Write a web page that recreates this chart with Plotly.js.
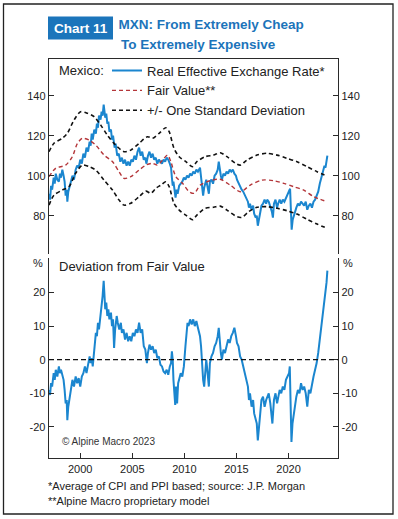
<!DOCTYPE html>
<html>
<head>
<meta charset="utf-8">
<script src="https://cdn.plot.ly/plotly-3.0.1.min.js"></script>
<style>
  html, body { margin: 0; padding: 0; background: #fff; }
  #chart { width: 398px; height: 519px; }
</style>
</head>
<body>
<div id="chart"></div>
<script>
// ---------- DATA ----------
const reerYears = [1997.0,1997.1,1997.2,1997.3,1997.45,1997.55,1997.65,1997.8,1997.95,1998.05,1998.15,1998.28,1998.4,1998.5,1998.6,1998.7,1998.76,1998.85,1999.0,1999.1,1999.25,1999.4,1999.56,1999.7,1999.85,2000.0,2000.15,2000.3,2000.45,2000.6,2000.75,2000.9,2001.0,2001.1,2001.2,2001.35,2001.5,2001.6,2001.7,2001.8,2001.95,2002.05,2002.15,2002.25,2002.32,2002.4,2002.5,2002.6,2002.7,2002.8,2002.95,2003.05,2003.15,2003.3,2003.4,2003.55,2003.7,2003.85,2004.0,2004.15,2004.3,2004.45,2004.6,2004.75,2004.9,2005.05,2005.2,2005.35,2005.5,2005.65,2005.8,2005.95,2006.1,2006.25,2006.35,2006.5,2006.65,2006.8,2006.95,2007.1,2007.25,2007.4,2007.55,2007.7,2007.85,2008.0,2008.15,2008.3,2008.45,2008.6,2008.72,2008.8,2008.88,2008.95,2009.05,2009.15,2009.25,2009.35,2009.5,2009.65,2009.8,2009.95,2010.1,2010.25,2010.4,2010.55,2010.7,2010.85,2011.0,2011.15,2011.3,2011.5,2011.6,2011.7,2011.8,2011.9,2012.0,2012.1,2012.2,2012.35,2012.45,2012.6,2012.75,2012.9,2013.05,2013.2,2013.3,2013.4,2013.5,2013.6,2013.75,2013.9,2014.05,2014.2,2014.35,2014.5,2014.65,2014.8,2014.95,2015.05,2015.2,2015.35,2015.5,2015.65,2015.8,2015.95,2016.1,2016.2,2016.3,2016.45,2016.6,2016.7,2016.85,2016.95,2017.05,2017.12,2017.25,2017.4,2017.55,2017.7,2017.85,2017.95,2018.1,2018.25,2018.4,2018.5,2018.6,2018.75,2018.9,2019.0,2019.15,2019.3,2019.45,2019.6,2019.75,2019.9,2020.05,2020.15,2020.22,2020.3,2020.4,2020.5,2020.6,2020.75,2020.9,2021.05,2021.2,2021.35,2021.5,2021.65,2021.8,2021.95,2022.1,2022.25,2022.4,2022.55,2022.7,2022.85,2023.0,2023.15,2023.3,2023.45,2023.55,2023.65,2023.73];
const reerValues = [91,88,95,93,99,96,101,98,97,101,99,103,100,97,90,93,87,92,95,97,100,98,103,105,104,108,106,111,109,114,112,117,115,121,118,123,121,126,124,130,128,132,130,135.5,133,129,131,126,127,122,123,118,120,114,116,110,111,107,109,106,108,105,107,105,108,107,110,108,112,114,110,112,108,109,106,110,112,109,111,108,109,106,108,107,106,108,107,109,108,106,104,99,95,97,92,89,93,91,95,96,97,99,98,100,99,101,100,102,101,103,102,104,100,96,90,94,96,98,95,91,97,98,96,100,101,103,107,103,100,98,101,100,102,101,103,102,103,101,100,98,96,95,93,92,90,89,87,84,86,83,85,81,79,80,75,77,80,85,86,88,86,88,87,85,82,79,86,88,84,86,88,86,88,87,89,90,92,93.5,84,73,78,80,82,84,86,85,87,86,85,87,83,85,86,84,87,88,90,92,96,99,101,105,104,109,110];

const fairYears = [1997.0,1997.64,1998.6,1999.24,1999.72,2000.2,2000.85,2001.49,2002.29,2003.1,2003.73,2004.2,2004.85,2005.65,2006.3,2006.94,2007.4,2007.9,2008.38,2008.7,2009.18,2009.82,2010.46,2010.94,2011.52,2012.48,2013.44,2014.4,2015.37,2016.33,2017.45,2018.57,2019.53,2020.5,2021.46,2022.42,2023.7];
const fairValues = [99.5,103.7,105.3,109.5,116,118.7,117.8,115.3,110.3,107,102,98.7,99.5,102.8,105.3,106.2,105.3,107.8,110.3,107,99.5,96.2,92,91.2,95.3,97.5,98.2,95.3,92,95.3,97.8,97.5,96.2,94.5,92.8,89.5,87];

const upperYears = [1997.0,1997.48,1998.28,1998.76,1999.4,2000.04,2000.69,2001.33,2001.97,2002.6,2003.4,2004.2,2004.85,2005.65,2006.46,2006.94,2007.58,2008.22,2008.54,2009.0,2009.5,2010.14,2010.78,2011.2,2012.0,2012.8,2013.44,2014.09,2014.9,2015.37,2016.0,2016.97,2017.93,2018.9,2019.85,2020.82,2021.78,2022.74,2023.7];
const upperValues = [112,116.2,118.7,121.2,127.8,132,131.2,129.5,125.3,120.3,115.3,112,112.8,116.2,119.5,118.7,121.2,124,122,113.7,109.5,107,104.5,107,109.5,110.3,111.5,109.5,106.2,105.3,107.8,110.3,111.2,110.3,108.7,107,104.5,102,99.8];

const lowerYears = [1997.0,1997.48,1998.28,1998.92,1999.56,2000.2,2000.85,2001.49,2002.29,2003.1,2003.73,2004.2,2004.85,2005.65,2006.3,2006.78,2007.26,2007.74,2008.22,2008.54,2009.0,2009.5,2010.14,2010.78,2011.2,2012.0,2012.8,2013.44,2014.09,2015.05,2015.53,2016.17,2016.97,2017.93,2018.9,2019.85,2020.82,2021.78,2022.74,2023.7];
const lowerValues = [85.3,90.3,92.8,94.5,101.2,105.3,104.5,102.8,97.8,92.8,87.8,85.3,86.2,89.5,92.3,91.2,93.7,95.3,97,94.5,86.2,82.8,80.3,78,80.3,83.7,84.2,84.8,82.8,79.5,79.2,82,84.2,84.5,83.7,82.5,80.8,78.2,75.8,73.7];

const devYears = [1997.0,1997.1,1997.2,1997.3,1997.45,1997.55,1997.65,1997.8,1997.95,1998.05,1998.15,1998.28,1998.4,1998.5,1998.6,1998.7,1998.76,1998.85,1999.0,1999.1,1999.25,1999.4,1999.56,1999.7,1999.85,2000.0,2000.15,2000.3,2000.45,2000.6,2000.75,2000.9,2001.0,2001.1,2001.2,2001.35,2001.5,2001.6,2001.7,2001.8,2001.95,2002.05,2002.15,2002.25,2002.32,2002.4,2002.5,2002.6,2002.7,2002.8,2002.95,2003.05,2003.15,2003.25,2003.35,2003.5,2003.6,2003.75,2003.9,2004.0,2004.15,2004.3,2004.45,2004.6,2004.75,2004.9,2005.05,2005.2,2005.35,2005.5,2005.65,2005.8,2005.95,2006.1,2006.25,2006.4,2006.5,2006.65,2006.8,2006.95,2007.1,2007.25,2007.4,2007.55,2007.7,2007.85,2008.0,2008.15,2008.3,2008.45,2008.6,2008.72,2008.8,2008.88,2008.95,2009.05,2009.12,2009.2,2009.3,2009.4,2009.5,2009.65,2009.8,2009.95,2010.1,2010.2,2010.3,2010.4,2010.55,2010.7,2010.85,2011.0,2011.15,2011.3,2011.5,2011.6,2011.7,2011.8,2011.9,2012.0,2012.1,2012.2,2012.35,2012.45,2012.6,2012.75,2012.9,2013.05,2013.2,2013.3,2013.4,2013.5,2013.6,2013.75,2013.9,2014.05,2014.2,2014.35,2014.5,2014.65,2014.8,2014.95,2015.05,2015.2,2015.35,2015.5,2015.65,2015.8,2015.95,2016.1,2016.2,2016.3,2016.45,2016.6,2016.7,2016.85,2016.95,2017.05,2017.12,2017.25,2017.4,2017.55,2017.7,2017.85,2017.95,2018.1,2018.25,2018.35,2018.45,2018.6,2018.75,2018.9,2019.0,2019.15,2019.3,2019.45,2019.6,2019.75,2019.9,2020.05,2020.12,2020.2,2020.28,2020.38,2020.5,2020.6,2020.75,2020.9,2021.05,2021.2,2021.35,2021.5,2021.65,2021.8,2021.95,2022.1,2022.25,2022.4,2022.55,2022.7,2022.85,2023.0,2023.15,2023.3,2023.45,2023.55,2023.65,2023.73];
const devValues = [-9,-10.5,-7,-8,-4,-6,-3,-5,-2,-4,-3,-4.5,-6,-9,-13,-12,-18,-14,-11,-10,-6,-8,-5,-7,-5.5,-8,-5,-4,-2,-4,-1,1,-1,0.5,-2,4,8,7,11,9,13,17,19,23.5,20,15,17,13,15,12,14,10,12,3.5,9,13,11,9,11,8,9,6,8,5.5,7,5.5,8,7,9,8,11,8,9,4,3,-1,2,4.5,3,4,2,3,0.5,1,-1.5,-2,-3.5,-4,-3,-4.5,-2,-1,2.5,0,-6,-11,-13.5,-8,-13,-7,-6,-4,-5,-2,4,7,11,10,12,10.5,12,10,11.5,9.5,7,4,-2,-6,-8,-2,0,-3,-8,-1,1,2,4,5,7,9.5,5,2,0,3,2,4,6,5,7,8,9.5,7,5,4,1,0,-2,-4,-6,-8,-12,-10,-14,-12,-16,-18,-19,-24,-22,-17,-12,-11,-14,-12,-11,-10,-13,-16,-19,-12,-10,-13,-11,-9,-10,-8,-9,-6,-5,-4,-2,-12,-24.5,-19,-16,-13,-11,-9,-10,-7,-9,-8,-10,-14,-9,-10,-7,-5,-3,-1,2,6,9,14,17,20,23,26.5];

const xTicks = [2000, 2005, 2010, 2015, 2020];
const topTicks = [80, 100, 120, 140];
const botTicks = [-20, -10, 0, 10, 20];

// ---------- LAYOUT HELPERS ----------
const W = 398, H = 519;
const px = v => v / W;
const py = v => 1 - v / H;
const BLUE = '#1b86cf';
const TITLEBLUE = '#1c74ba';
const FONT = 'Liberation Sans, Arial, sans-serif';
const AX = '#2a2a2a';

const xDom = [px(49), px(338)];
const topDom = [py(254), py(59)];
const botDom = [py(458), py(258)];
const xRange = [1997.0, 2024.75];
const topRange = [60.85, 158.35];
const botRange = [-29.26, 30.27];

const tickFont = {family: FONT, size: 11, color: '#222'};

const traces = [
  {x: reerYears, y: reerValues, xaxis: 'x2', yaxis: 'y', type: 'scatter', mode: 'lines',
   name: 'Real Effective Exchange Rate*', line: {color: BLUE, width: 2}, hoverinfo: 'skip'},
  {x: fairYears, y: fairValues, xaxis: 'x2', yaxis: 'y', type: 'scatter', mode: 'lines',
   name: 'Fair Value**', line: {color: '#b4363a', width: 1.4, dash: '4px,3px', shape: 'spline', smoothing: 0.8}, hoverinfo: 'skip'},
  {x: upperYears, y: upperValues, xaxis: 'x2', yaxis: 'y', type: 'scatter', mode: 'lines',
   name: '+/- One Standard Deviation', legendgroup: 'sd',
   line: {color: '#111', width: 1.6, dash: '4px,3px', shape: 'spline', smoothing: 0.8}, hoverinfo: 'skip'},
  {x: lowerYears, y: lowerValues, xaxis: 'x2', yaxis: 'y', type: 'scatter', mode: 'lines',
   name: 'Lower band', legendgroup: 'sd', showlegend: false,
   line: {color: '#111', width: 1.6, dash: '4px,3px', shape: 'spline', smoothing: 0.8}, hoverinfo: 'skip'},
  {x: devYears, y: devValues, xaxis: 'x', yaxis: 'y2', type: 'scatter', mode: 'lines',
   name: 'Deviation from Fair Value', showlegend: false, line: {color: BLUE, width: 2}, hoverinfo: 'skip'},
  {x: [], y: [], xaxis: 'x2', yaxis: 'y3', type: 'scatter', mode: 'lines', showlegend: false, hoverinfo: 'skip'},
  {x: [], y: [], xaxis: 'x', yaxis: 'y4', type: 'scatter', mode: 'lines', showlegend: false, hoverinfo: 'skip'}
];

const yCommon = {
  showgrid: false, zeroline: false, showline: true, linecolor: AX, linewidth: 1.3,
  ticks: 'inside', ticklen: 5, tickwidth: 1, tickcolor: AX, tickfont: tickFont, fixedrange: true
};

const layout = {
  width: W, height: H,
  margin: {l: 0, r: 0, t: 0, b: 0},
  paper_bgcolor: '#fff', plot_bgcolor: 'rgba(0,0,0,0)',
  font: {family: FONT, color: '#222'},
  title: {
    text: 'MXN: From Extremely Cheap',
    x: px(118.5), xanchor: 'left', xref: 'paper',
    y: py(24.5), yanchor: 'middle', yref: 'container',
    font: {family: FONT, size: 13.5, color: TITLEBLUE, weight: 'bold'}
  },
  showlegend: true,
  legend: {
    x: px(107), xanchor: 'left', y: py(55.5), yanchor: 'top',
    bgcolor: 'rgba(0,0,0,0)', borderwidth: 0,
    font: {family: FONT, size: 13, color: '#222'},
    tracegroupgap: 0
  },
  xaxis: {
    domain: xDom, anchor: 'y2', range: xRange, showgrid: false, zeroline: false,
    showline: true, linecolor: AX, linewidth: 1.3,
    ticks: 'inside', ticklen: 5, tickwidth: 1, tickcolor: AX,
    tickvals: xTicks, ticktext: xTicks.map(String), tickfont: tickFont, fixedrange: true
  },
  xaxis2: {
    domain: xDom, anchor: 'y', matches: 'x', side: 'top', showgrid: false, zeroline: false,
    showline: true, linecolor: AX, linewidth: 1.3, ticks: '', showticklabels: false, fixedrange: true
  },
  yaxis: Object.assign({}, yCommon, {domain: topDom, anchor: 'x2', range: topRange, side: 'left',
    tickvals: topTicks, ticktext: topTicks.map(String)}),
  yaxis3: Object.assign({}, yCommon, {overlaying: 'y', anchor: 'x2', range: topRange, side: 'right',
    tickvals: topTicks, ticktext: topTicks.map(String)}),
  yaxis2: Object.assign({}, yCommon, {domain: botDom, anchor: 'x', range: botRange, side: 'left',
    tickvals: botTicks, ticktext: botTicks.map(String)}),
  yaxis4: Object.assign({}, yCommon, {overlaying: 'y2', anchor: 'x', range: botRange, side: 'right',
    tickvals: botTicks, ticktext: botTicks.map(String)}),
  shapes: [
    {type: 'rect', xref: 'paper', yref: 'paper', x0: px(3.5), x1: px(393), y0: py(514), y1: py(4),
     line: {color: '#222', width: 1.3}, fillcolor: 'rgba(0,0,0,0)', layer: 'below'},
    {type: 'rect', xref: 'paper', yref: 'paper', x0: px(48), x1: px(113), y0: py(39.5), y1: py(16.5),
     line: {width: 0}, fillcolor: '#1b75bb'},
    {type: 'line', xref: 'x domain', yref: 'y2', x0: 0, x1: 1, y0: 0, y1: 0,
     line: {color: '#111', width: 1.2, dash: '5px,3px'}}
  ],
  annotations: [
    {text: 'Chart 11', xref: 'paper', yref: 'paper', x: px(80.5), y: py(28), xanchor: 'center', yanchor: 'middle',
     showarrow: false, font: {family: FONT, size: 13.5, color: '#fff', weight: 'bold'}},
    {text: 'To Extremely Expensive', xref: 'paper', yref: 'paper', x: px(118.5), y: py(44.5), xanchor: 'left', yanchor: 'middle',
     showarrow: false, font: {family: FONT, size: 13.5, color: TITLEBLUE, weight: 'bold'}},
    {text: 'Mexico:', xref: 'paper', yref: 'paper', x: px(57), y: py(70.5), xanchor: 'left', yanchor: 'middle',
     showarrow: false, font: {family: FONT, size: 13, color: '#222'}},
    {text: 'Deviation from Fair Value', xref: 'paper', yref: 'paper', x: px(57), y: py(266), xanchor: 'left', yanchor: 'middle',
     showarrow: false, font: {family: FONT, size: 13, color: '#222'}},
    {text: '%', xref: 'paper', yref: 'paper', x: px(45), y: py(263), xanchor: 'right', yanchor: 'middle',
     showarrow: false, font: {family: FONT, size: 11, color: '#222'}},
    {text: '%', xref: 'paper', yref: 'paper', x: px(341), y: py(263), xanchor: 'left', yanchor: 'middle',
     showarrow: false, font: {family: FONT, size: 11, color: '#222'}},
    {text: '© Alpine Macro 2023', xref: 'paper', yref: 'paper', x: px(60), y: py(441), xanchor: 'left', yanchor: 'middle',
     showarrow: false, font: {family: FONT, size: 10, color: '#333'}},
    {text: '*Average of CPI and PPI based; source: J.P. Morgan', xref: 'paper', yref: 'paper', x: px(46), y: py(486), xanchor: 'left', yanchor: 'middle',
     showarrow: false, font: {family: FONT, size: 11, color: '#222'}},
    {text: '**Alpine Macro proprietary model', xref: 'paper', yref: 'paper', x: px(46), y: py(500.5), xanchor: 'left', yanchor: 'middle',
     showarrow: false, font: {family: FONT, size: 11, color: '#222'}}
  ]
};

Plotly.newPlot('chart', traces, layout, {staticPlot: true, displayModeBar: false});
</script>
</body>
</html>
